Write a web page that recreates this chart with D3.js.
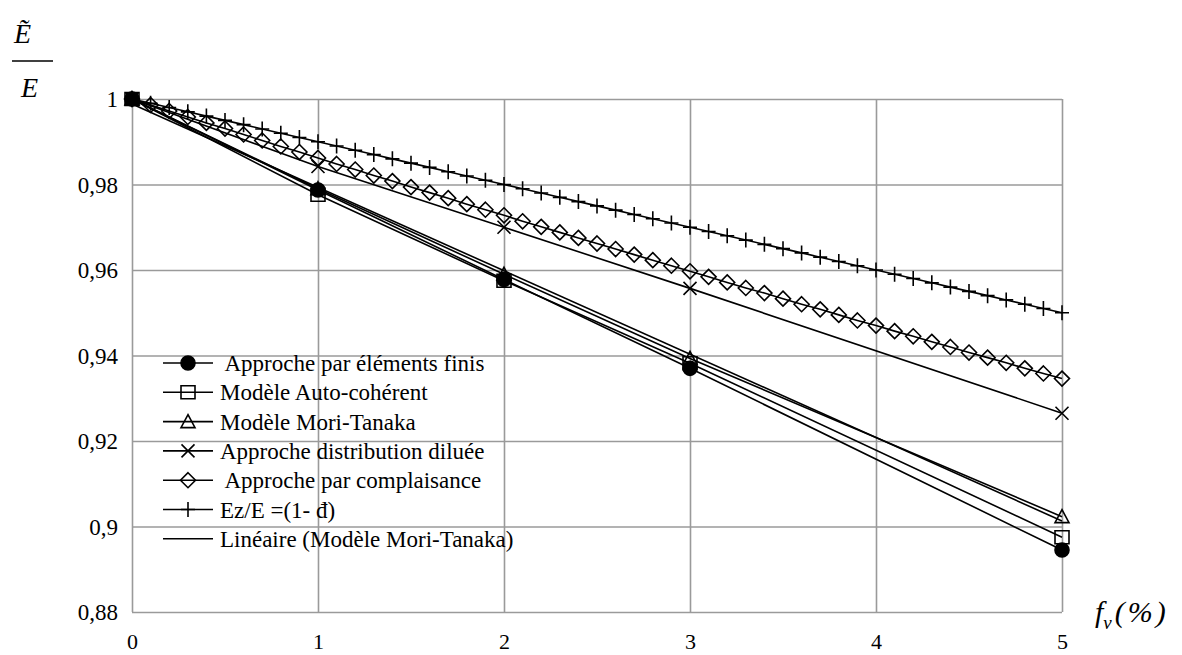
<!DOCTYPE html>
<html>
<head>
<meta charset="utf-8">
<script src="https://cdn.jsdelivr.net/npm/d3@7"></script>
<style>
  html, body { margin: 0; padding: 0; background: #fff; }
  svg { display: block; }
  svg text { font-family: "Liberation Serif", "Times New Roman", Times, Tinos, "DejaVu Serif", serif !important; fill: #000; }
</style>
</head>
<body>
<svg id="chart" width="1182" height="655"></svg>
<script>
// Volume fraction of voids (%) at which the models were evaluated
const xPoints = [0, 1, 2, 3, 5];
const feValues = [1, 0.9787, 0.9578, 0.9370, 0.8945];   // Approche par éléments finis
const acValues = [1, 0.9776, 0.9575, 0.9382, 0.8975];   // Modèle Auto-cohérent
const mtValues = [1, 0.9790, 0.9590, 0.9393, 0.9023];   // Modèle Mori-Tanaka
const ddValues = [1, 0.9842, 0.9700, 0.9557, 0.9265];   // Approche distribution diluée

// Finer sampling for the two analytical curves
const xFine = [0, 0.1, 0.2, 0.3, 0.4, 0.5, 0.6, 0.7, 0.8, 0.9,
  1, 1.1, 1.2, 1.3, 1.4, 1.5, 1.6, 1.7, 1.8, 1.9,
  2, 2.1, 2.2, 2.3, 2.4, 2.5, 2.6, 2.7, 2.8, 2.9,
  3, 3.1, 3.2, 3.3, 3.4, 3.5, 3.6, 3.7, 3.8, 3.9,
  4, 4.1, 4.2, 4.3, 4.4, 4.5, 4.6, 4.7, 4.8, 4.9, 5];
const complValues = [1, 0.9986, 0.9972, 0.9958, 0.9944, 0.9931, 0.9917, 0.9903, 0.9889, 0.9876,
  0.9862, 0.9848, 0.9835, 0.9821, 0.9808, 0.9794, 0.9781, 0.9768, 0.9754, 0.9741,
  0.9728, 0.9714, 0.9701, 0.9688, 0.9675, 0.9662, 0.9649, 0.9636, 0.9623, 0.9610,
  0.9597, 0.9584, 0.9571, 0.9558, 0.9546, 0.9533, 0.9520, 0.9508, 0.9495, 0.9482,
  0.9470, 0.9457, 0.9445, 0.9432, 0.9420, 0.9407, 0.9395, 0.9383, 0.9370, 0.9358, 0.9346];
const ezValues = [1, 0.999, 0.998, 0.997, 0.996, 0.995, 0.994, 0.993, 0.992, 0.991,
  0.99, 0.989, 0.988, 0.987, 0.986, 0.985, 0.984, 0.983, 0.982, 0.981,
  0.98, 0.979, 0.978, 0.977, 0.976, 0.975, 0.974, 0.973, 0.972, 0.971,
  0.97, 0.969, 0.968, 0.967, 0.966, 0.965, 0.964, 0.963, 0.962, 0.961,
  0.96, 0.959, 0.958, 0.957, 0.956, 0.955, 0.954, 0.953, 0.952, 0.951, 0.95];

const yTicks = [0.88, 0.9, 0.92, 0.94, 0.96, 0.98, 1];
const yTickLabels = ["0,88", "0,9", "0,92", "0,94", "0,96", "0,98", "1"];
const xTicks = [0, 1, 2, 3, 4, 5];

const legendLabels = [
  " Approche par éléments finis",
  "Modèle Auto-cohérent",
  "Modèle Mori-Tanaka",
  "Approche distribution diluée",
  " Approche par complaisance",
  "Ez/E =(1- đ)",
  "Linéaire (Modèle Mori-Tanaka)"
];

const serif = "'Liberation Serif', 'Times New Roman', Times, Tinos, 'DejaVu Serif', serif";
const svg = d3.select("#chart");
const plot = { left: 132, right: 1062, top: 99, bottom: 612 };

const x = d3.scaleLinear().domain([0, 5]).range([plot.left, plot.right]);
const y = d3.scaleLinear().domain([0.88, 1]).range([plot.bottom, plot.top]);

// Grid + tick labels
const gridColor = "#9a9a9a";
const yAxis = svg.append("g")
  .attr("transform", `translate(${plot.left},0)`)
  .call(d3.axisLeft(y).tickValues(yTicks)
    .tickSize(-(plot.right - plot.left)).tickPadding(14)
    .tickFormat((d, i) => yTickLabels[i]));
yAxis.attr("font-family", serif);
yAxis.select(".domain").remove();
yAxis.selectAll("line").attr("stroke", gridColor).attr("stroke-width", 1.6);
yAxis.selectAll("text").style("font-size", "23px").attr("dy", "0.34em");

const xAxis = svg.append("g")
  .attr("transform", `translate(0,${plot.bottom})`)
  .call(d3.axisBottom(x).tickValues(xTicks)
    .tickSize(-(plot.bottom - plot.top)).tickPadding(21)
    .tickFormat(d3.format("d")));
xAxis.attr("font-family", serif);
xAxis.select(".domain").remove();
xAxis.selectAll("line").attr("stroke", gridColor).attr("stroke-width", 1.6);
xAxis.selectAll("text").style("font-size", "22px");

// Marker shapes (drawn centred at 0,0)
const markerPaths = {
  circle: "M7,0A7,7 0 1,1 -7,0A7,7 0 1,1 7,0Z",
  square: "M-7,-6.5H7V6.5H-7Z",
  triangle: "M0,-7L7,6H-7Z",
  cross: "M-6.5,-6.5L6.5,6.5M6.5,-6.5L-6.5,6.5",
  diamond: "M0,-7.5L7.5,0L0,7.5L-7.5,0Z",
  plus: "M-7,0H7M0,-7.5V7.5"
};
const markerFill = { circle: "#000", square: "none", triangle: "none", cross: "none", diamond: "none", plus: "none" };

function drawMarker(g, shape, cx, cy) {
  g.append("path")
    .attr("d", markerPaths[shape])
    .attr("transform", `translate(${cx},${cy})`)
    .attr("fill", markerFill[shape])
    .attr("stroke", "#000")
    .attr("stroke-width", 1.6);
}

const line = d3.line().x(d => x(d[0])).y(d => y(d[1]));
const zip = (xs, ys) => xs.map((v, i) => [v, ys[i]]);

// Least-squares trend line of the Mori-Tanaka points
const mtPairs = zip(xPoints, mtValues);
const mx = d3.mean(xPoints), my = d3.mean(mtValues);
const slope = d3.sum(mtPairs, d => (d[0] - mx) * (d[1] - my)) /
              d3.sum(xPoints, v => (v - mx) * (v - mx));
const intercept = my - slope * mx;
const trendPairs = [[0, intercept], [5, intercept + slope * 5]];

const series = [
  { data: zip(xFine, ezValues), shape: "plus" },
  { data: zip(xFine, complValues), shape: "diamond" },
  { data: zip(xPoints, ddValues), shape: "cross" },
  { data: trendPairs, shape: null },
  { data: zip(xPoints, mtValues), shape: "triangle" },
  { data: zip(xPoints, acValues), shape: "square" },
  { data: zip(xPoints, feValues), shape: "circle" }
];

const lines = svg.append("g");
series.forEach(s => {
  lines.append("path")
    .attr("d", line(s.data))
    .attr("fill", "none")
    .attr("stroke", "#000")
    .attr("stroke-width", 1.6);
});
const marks = svg.append("g");
series.forEach(s => {
  if (!s.shape) return;
  s.data.forEach(d => drawMarker(marks, s.shape, x(d[0]), y(d[1])));
});

// Legend
const legendShapes = ["circle", "square", "triangle", "cross", "diamond", "plus", null];
const legend = svg.append("g").attr("font-family", serif);
legendLabels.forEach((label, i) => {
  const cy = 363 + i * 29.3;
  legend.append("line")
    .attr("x1", 163).attr("x2", 213).attr("y1", cy).attr("y2", cy)
    .attr("stroke", "#000").attr("stroke-width", 1.6);
  if (legendShapes[i]) drawMarker(legend, legendShapes[i], 188, cy);
  legend.append("text")
    .attr("x", 220).attr("y", cy + 8)
    .attr("xml:space", "preserve")
    .style("font-size", "23px")
    .text(label);
});

// Axis titles: Ẽ / E on the left, f_v(%) at the bottom right
const yTitle = svg.append("g").attr("font-family", serif);
yTitle.append("text").attr("x", 14).attr("y", 43)
  .style("font-size", "28px").style("font-style", "italic").text("Ẽ");
yTitle.append("line").attr("x1", 12).attr("x2", 53).attr("y1", 61).attr("y2", 61)
  .attr("stroke", "#000").attr("stroke-width", 1.5);
yTitle.append("text").attr("x", 21).attr("y", 97)
  .style("font-size", "28px").style("font-style", "italic").text("E");

const xTitle = svg.append("text").attr("x", 1095).attr("y", 622)
  .attr("font-family", serif)
  .style("font-size", "30px").style("font-style", "italic");
xTitle.append("tspan").text("f");
xTitle.append("tspan").attr("dy", 7).style("font-size", "19px").text("v");
xTitle.append("tspan").attr("dy", -7).attr("dx", 3)
  .style("letter-spacing", "3px").text("(%)");
</script>
</body>
</html>
